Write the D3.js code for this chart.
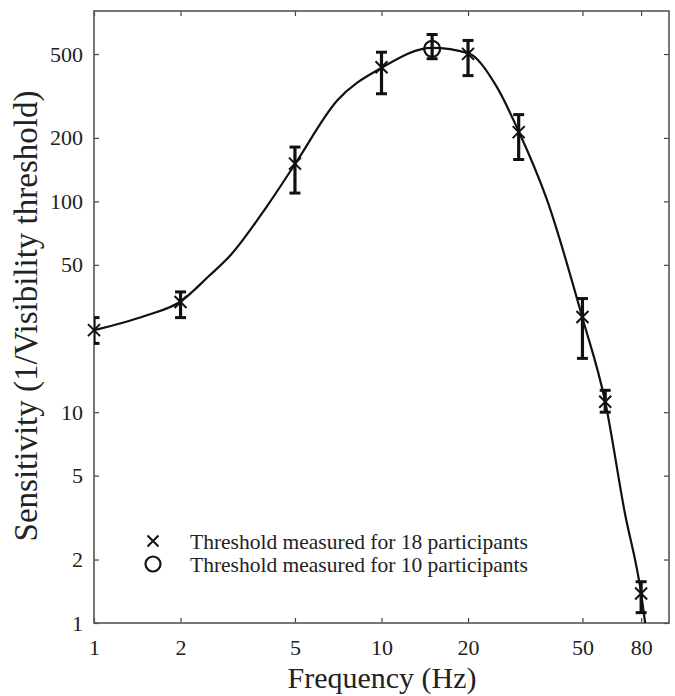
<!DOCTYPE html>
<html>
<head>
<meta charset="utf-8">
<script src="https://cdn.jsdelivr.net/npm/d3@7"></script>
<style>
  html, body { margin: 0; padding: 0; background: #fff; }
  svg { display: block; }
  text { font-family: "Liberation Serif", "Times New Roman", serif; fill: #222; }
</style>
</head>
<body>
<svg id="chart" width="675" height="696"></svg>
<script>
// ---- Data ----
const freqs18 = [1, 2, 5, 10, 20, 30, 50, 60, 80];
const sens18 = [24.5, 33.3, 151, 433, 501, 213, 28.3, 11.2, 1.38];
const errLow18 = [21.2, 28.1, 109.5, 324, 395, 158, 18.0, 10.0, 1.12];
const errHigh18 = [28.1, 37.2, 181, 510, 580, 258, 34.6, 12.7, 1.57];

const freqs10 = [15];
const sens10 = [529];
const errLow10 = [475];
const errHigh10 = [619];

const curveFreq = [1, 1.5, 2, 2.5, 3, 4, 5, 7, 10, 15, 20, 25, 30, 37.7, 50, 60, 70, 80, 83];
const curveSens = [24.5, 28.6, 33.5, 44, 56, 95, 150, 300, 430, 535, 505, 355, 215, 101, 28, 11.2, 3.4, 1.38, 0.95];

const xTicks = [1, 2, 5, 10, 20, 50, 80];
const yTicks = [1, 2, 5, 10, 50, 100, 200, 500];

const legendLabels = ["Threshold measured for 18 participants", "Threshold measured for 10 participants"];

// ---- Layout ----
const svg = d3.select("#chart");
const pLeft = 94, pRight = 669, pTop = 11, pBottom = 623;

const x = d3.scaleLog().domain([1, 100]).range([pLeft, pRight]);
const y = d3.scaleLog().domain([1, 800]).range([pBottom, pTop]);

svg.append("defs").append("clipPath").attr("id", "clip")
  .append("rect").attr("x", pLeft).attr("y", pTop).attr("width", pRight - pLeft).attr("height", pBottom - pTop);

// Axes (ticks inward on all sides)
const fmt = d => String(d);
const gx = svg.append("g").attr("transform", `translate(0,${pBottom})`)
  .call(d3.axisBottom(x).tickValues(xTicks).tickFormat(fmt).tickSizeInner(-5).tickSizeOuter(0).tickPadding(16));
const gxTop = svg.append("g").attr("transform", `translate(0,${pTop})`)
  .call(d3.axisTop(x).tickValues(xTicks).tickFormat("").tickSizeInner(-5).tickSizeOuter(0));
const gy = svg.append("g").attr("transform", `translate(${pLeft},0)`)
  .call(d3.axisLeft(y).tickValues(yTicks).tickFormat(fmt).tickSizeInner(-5).tickSizeOuter(0).tickPadding(11));
const gyR = svg.append("g").attr("transform", `translate(${pRight},0)`)
  .call(d3.axisRight(y).tickValues(yTicks).tickFormat("").tickSizeInner(-5).tickSizeOuter(0));

[gx, gxTop, gy, gyR].forEach(g => {
  g.select(".domain").remove();
  g.selectAll(".tick line").attr("stroke", "#444").attr("stroke-width", 1.2);
  g.selectAll(".tick text").attr("font-size", 22).attr("font-family", "Liberation Serif").attr("fill", "#222");
});
gx.selectAll(".tick text").attr("dy", "0.71em");

// frame
svg.append("rect").attr("x", pLeft).attr("y", pTop).attr("width", pRight - pLeft).attr("height", pBottom - pTop)
  .attr("fill", "none").attr("stroke", "#555").attr("stroke-width", 1.6);

// curve
const curveData = curveFreq.map((f, i) => [f, curveSens[i]]);
const line = d3.line().x(d => x(d[0])).y(d => y(d[1])).curve(d3.curveMonotoneX);
svg.append("path").datum(curveData).attr("clip-path", "url(#clip)")
  .attr("d", line).attr("fill", "none").attr("stroke", "#111").attr("stroke-width", 2.2);

// error bars
function errorBars(fs, lo, hi) {
  const g = svg.append("g").attr("clip-path", "url(#clip)");
  fs.forEach((f, i) => {
    const cx = x(f);
    g.append("line").attr("x1", cx).attr("x2", cx).attr("y1", y(lo[i])).attr("y2", y(hi[i]))
      .attr("stroke", "#111").attr("stroke-width", 3.2);
    [lo[i], hi[i]].forEach(v => {
      g.append("line").attr("x1", cx - 5.5).attr("x2", cx + 5.5).attr("y1", y(v)).attr("y2", y(v))
        .attr("stroke", "#111").attr("stroke-width", 3);
    });
  });
}
errorBars(freqs18, errLow18, errHigh18);
errorBars(freqs10, errLow10, errHigh10);

// markers
function cross(g, cx, cy, s) {
  g.append("path").attr("d", `M${cx - s},${cy - s}L${cx + s},${cy + s}M${cx - s},${cy + s}L${cx + s},${cy - s}`)
    .attr("stroke", "#111").attr("stroke-width", 2).attr("fill", "none");
}
const mg = svg.append("g");
freqs18.forEach((f, i) => cross(mg, x(f), y(sens18[i]), 6));
freqs10.forEach((f, i) => {
  mg.append("circle").attr("cx", x(f)).attr("cy", y(sens10[i])).attr("r", 8)
    .attr("fill", "none").attr("stroke", "#111").attr("stroke-width", 2.2);
});

// legend
const lg = svg.append("g");
cross(lg, 153, 541, 5.5);
lg.append("circle").attr("cx", 153).attr("cy", 564).attr("r", 7.5).attr("fill", "none").attr("stroke", "#111").attr("stroke-width", 2.2);
legendLabels.forEach((t, i) => {
  lg.append("text").attr("x", 190).attr("y", 541 + i * 23).attr("dy", "0.35em")
    .attr("font-size", 21.5).text(t);
});

// axis titles
svg.append("text").attr("x", 382).attr("y", 688).attr("text-anchor", "middle")
  .attr("font-size", 30).text("Frequency (Hz)");
svg.append("text").attr("transform", `translate(37,316) rotate(-90)`)
  .attr("text-anchor", "middle").attr("font-size", 33).text("Sensitivity (1/Visibility threshold)");
</script>
</body>
</html>
